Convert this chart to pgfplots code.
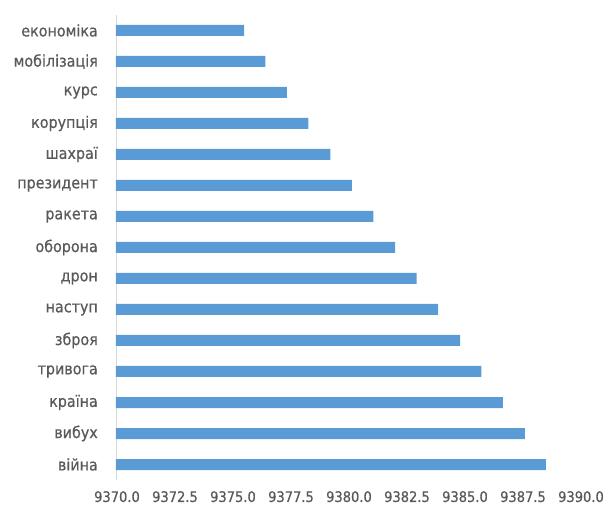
\documentclass[border=0pt]{standalone}
\usepackage{fontspec}
\setmainfont{DejaVu Sans}[FakeStretch=0.9, FakeBold=0.6]
\usepackage{pgfplots}
\pgfplotsset{compat=1.18}
\definecolor{barblue}{HTML}{5B9BD5}
\definecolor{txtgray}{HTML}{595959}
\definecolor{axgray}{HTML}{D9D9D9}
\begin{document}
\begin{tikzpicture}
\begin{axis}[
  name=ax,
  scale only axis,
  width=464bp, height=465bp,
  xmin=9370, xmax=9390,
  ymin=-0.5, ymax=14.5,
  xtick={9370,9372.5,...,9390},
  ytick={0,...,14},
  yticklabels={війна,вибух,країна,тривога,зброя,наступ,дрон,оборона,ракета,президент,шахраї,корупція,курс,мобілізація,економіка},
  axis x line=bottom,
  axis y line=left,
  x axis line style={draw=none,-},
  y axis line style={draw=axgray,line width=0.8bp,-},
  major tick length=0pt,
  tick style={draw=none},
  xbar, bar width=11bp,
  font=\fontsize{15.9bp}{19bp}\selectfont,
  ticklabel style={text=txtgray},
  yticklabel style={anchor=east, inner sep=0pt, xshift=-18bp},
  xticklabel style={anchor=north, inner sep=0pt, yshift=-11bp, xshift=1bp,
    font=\fontsize{14.5bp}{17bp}\selectfont,
    /pgf/number format/fixed, /pgf/number format/fixed zerofill,
    /pgf/number format/precision=1, /pgf/number format/1000 sep={},
    /pgf/number format/assume math mode=true},
]
\addplot[fill=barblue, draw=none] coordinates {
  (9388.53,0) (9387.62,1) (9386.68,2) (9385.75,3) (9384.83,4)
  (9383.89,5) (9382.96,6) (9382.03,7) (9381.09,8) (9380.17,9)
  (9379.24,10) (9378.29,11) (9377.37,12) (9376.44,13) (9375.52,14)
};
\end{axis}
\pgfresetboundingbox
\path (ax.south west) ++(-116bp,-25bp) coordinate (bl);
\path (ax.north east) ++(29bp,15bp) coordinate (tr);
\path[use as bounding box] (bl) rectangle (tr);
\end{tikzpicture}
\end{document}
